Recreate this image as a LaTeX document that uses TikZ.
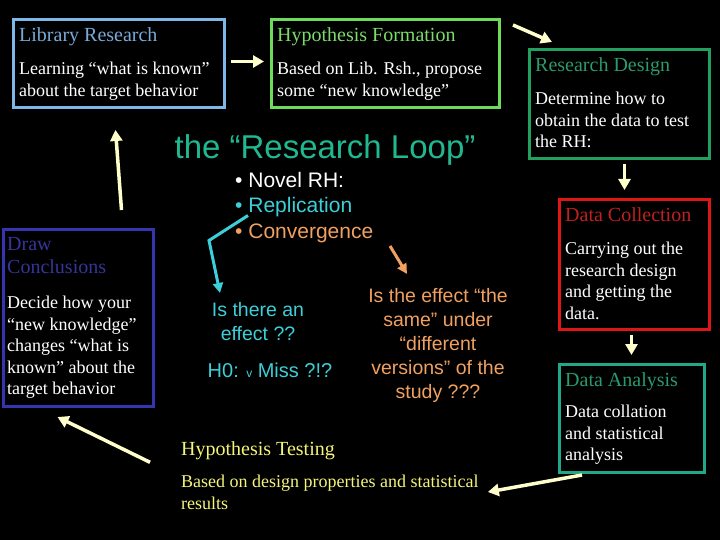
\documentclass[tikz,border=0pt]{standalone}
\usepackage{fontspec}
\setmainfont{Liberation Serif}
\setsansfont{Liberation Sans}
\usepackage{tikz}
\usetikzlibrary{arrows.meta, positioning, calc}
\usepackage{xcolor}
\definecolor{libblue}{RGB}{125,184,232}
\definecolor{libttl}{RGB}{122,170,216}
\definecolor{hypgreen}{RGB}{108,220,90}
\definecolor{hypttl}{RGB}{124,220,106}
\definecolor{rdgreen}{RGB}{34,160,96}
\definecolor{rdttl}{RGB}{46,154,106}
\definecolor{dcred}{RGB}{224,21,21}
\definecolor{dcttl}{RGB}{192,32,32}
\definecolor{dateal}{RGB}{32,168,136}
\definecolor{dattl}{RGB}{42,154,112}
\definecolor{dclblue}{RGB}{53,53,176}
\definecolor{dclttl}{RGB}{53,53,154}
\definecolor{htyellow}{RGB}{245,245,122}
\definecolor{arrowc}{RGB}{255,255,204}
\definecolor{loopttl}{RGB}{32,184,144}
\definecolor{repcyan}{RGB}{60,207,216}
\definecolor{convorange}{RGB}{240,160,96}

\tikzset{
  stage/.style={draw=#1, line width=3pt, anchor=north west, inner sep=0pt},
  stagettl/.style={text=#1, anchor=north west, inner sep=0pt, align=left,
    font=\fontsize{20}{23}\selectfont},
  stagetxt/.style={text=white, anchor=north west, inner sep=0pt, align=left,
    font=\fontsize{18}{21.5}\selectfont},
  flow/.style={draw=arrowc, line width=3.5pt, -{Triangle[length=11pt,width=12pt]}},
  loopq/.style={font=\sffamily\fontsize{19.5}{24}\selectfont, align=center, inner sep=0pt},
}

\begin{document}
\begin{tikzpicture}[x=1pt, y=-1pt]
  \fill[black] (0,0) rectangle (720,540);
  \useasboundingbox (0,0) rectangle (720,540);

  % stage boxes
  \node[stage=libblue, minimum width=211, minimum height=88] (lib) at (12,18) {};
  \node[stage=hypgreen, minimum width=228, minimum height=88] (hyp) at (270,18) {};
  \node[stage=rdgreen, minimum width=180, minimum height=109] (rd) at (528,48) {};
  \node[stage=dcred, minimum width=150, minimum height=130] (dc) at (558,198) {};
  \node[stage=dateal, minimum width=145, minimum height=108] (da) at (558,363) {};
  \node[stage=dclblue, minimum width=150, minimum height=177] (dcl) at (2,228) {};

  % stage texts
  \node[stagettl=libttl] (libttl) at (19,27) {Library Research};
  \node[stagetxt] (libtxt) at (19,62) {Learning “what is known”\\about the target behavior};
  \node[stagettl=hypttl] (hypttl) at (277,27) {Hypothesis Formation};
  \node[stagetxt] (hyptxt) at (277,62) {Based on Lib. Rsh., propose\\some “new knowledge”};
  \node[stagettl=rdttl] (rdttl) at (535,57) {Research Design};
  \node[stagetxt] (rdtxt) at (535,92) {Determine how to\\obtain the data to test\\the RH:};
  \node[stagettl=dcttl] (dcttl) at (565,207) {Data Collection};
  \node[stagetxt] (dctxt) at (565,242) {Carrying out the\\research design\\and getting the\\data.};
  \node[stagettl=dattl] (dattl) at (565,372) {Data Analysis};
  \node[stagetxt] (datxt) at (565,405) {Data collation\\and statistical\\analysis};
  \node[stagettl=dclttl] (dclttl) at (7,237) {Draw\\Conclusions};
  \node[stagetxt] (dcltxt) at (7,296) {Decide how your\\“new knowledge”\\changes “what is\\known” about the\\target behavior};
  \node[stagettl=htyellow] (htttl) at (181,441) {Hypothesis Testing};
  \node[stagetxt, text=htyellow] (httxt) at (181,475)
    {Based on design properties and statistical\\results};

  % the loop in the middle
  \node[font=\sffamily\fontsize{33}{36}\selectfont, text=loopttl, inner sep=0pt] (loop) at (325,150)
    {the “Research Loop”};
  \node[anchor=north west, inner sep=0pt, align=left,
    font=\sffamily\fontsize{21}{25.5}\selectfont] (bul) at (235,172)
    {\color{white}\textbullet\ Novel RH:\\
     \color{repcyan}\textbullet\ Replication\\
     \color{convorange}\textbullet\ Convergence};
  \node[loopq, text=repcyan, anchor=north] (effect) at (258,302) {Is there an\\effect ??};
  \node[loopq, text=repcyan, font=\sffamily\fontsize{20}{24}\selectfont] (hnull) at (270,370)
    {H0: {\fontsize{12}{12}\selectfont v} Miss ?!?};
  \node[loopq, text=convorange, anchor=north] (sameq) at (438,288)
    {Is the effect “the\\same” under\\“different\\versions” of the\\study ???};

  % connectors round the loop
  \draw[flow] ($(lib.east)+(5,-2)$) -- ($(hyp.west)+(-6,-2)$);
  \draw[flow] ($(hyp.north east)+(12,7)$) -- ($(rd.north west)+(24,-6)$);
  \draw[flow] ($(rd.south)+(5,4)$) -- ($(dc.north)+(-10,-8)$);
  \draw[flow] ($(dc.south)+(-3,4)$) -- ($(da.north)+(-0.5,-8)$);
  \draw[flow] ($(da.south west)+(24,1)$) -- ($(httxt.north east)+(9,17)$);
  \draw[flow] ($(htttl.west)+(-31,12)$) -- ($(dcl.south)+(-21,9)$);
  \draw[flow] ($(dcl.north)+(43,-18)$) -- ($(lib.south)+(-3.5,21)$);

  % pointers to the questions
  \draw[repcyan, line width=3pt, -{Triangle[length=10pt,width=10pt]}]
    ($(bul.west)+(13,8)$) -- ($(bul.west)+(-26,33)$) -- ($(effect.north)+(-38,-9)$);
  \draw[convorange, line width=3pt, -{Triangle[length=10pt,width=10pt]}]
    ($(sameq.north)+(-48,-42)$) -- ($(sameq.north)+(-31,-14)$);
\end{tikzpicture}
\end{document}
